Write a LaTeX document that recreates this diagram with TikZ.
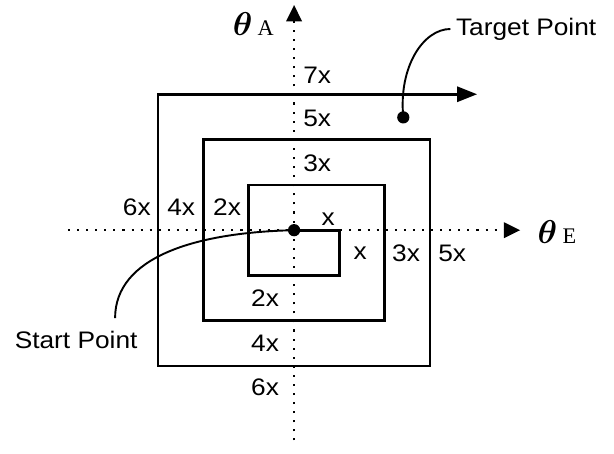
\documentclass[tikz,border=0pt]{standalone}
\usepackage{fontspec}
\setmainfont[FakeStretch=1.1]{Liberation Sans}
\newfontfamily\axisfont{Liberation Serif}
\usepackage{amsmath,bm}
\usepackage{tikz}
\usetikzlibrary{arrows.meta}

\begin{document}
\begin{tikzpicture}[
    >={Triangle[length=0.36cm,width=0.34cm]},
    font=\fontsize{15}{18}\selectfont,
    spiral/.style={line width=1.7pt, line join=miter},
    axisline/.style={line width=1.3pt, dash pattern=on 1.3pt off 4.4pt},
    pointer/.style={line width=1.2pt},
    spot/.style={circle, fill, inner sep=0pt, minimum size=0.27cm},
    lbl/.style={inner sep=1pt}
]

\useasboundingbox (-6.49,-4.92) rectangle (7.06,5.08);

% Axes
\draw[axisline,->] (0,-4.64) -- (0,4.97);
\draw[axisline,->] (-4.99,0) -- (4.99,0);
\node (thetaA) at (-0.9,4.55) {\fontsize{20}{24}\selectfont$\bm{\theta}$\,{\axisfont\fontsize{14}{16}\selectfont A}};
\node (thetaE) at (5.8,-0.04) {\fontsize{20}{24}\selectfont$\bm{\theta}$\,{\axisfont\fontsize{14}{16}\selectfont E}};

% Points
\node[spot] (sp) at (0,0) {};
\node[spot] (tp) at (2.41,2.49) {};

% Spiral search path
\draw[spiral,-{Triangle[length=0.44cm,width=0.33cm]}] (sp.center) -- (1,0) -- (1,-1) -- (-1,-1) -- (-1,1)
    -- (2,1) -- (2,-2) -- (-2,-2) -- (-2,2) -- (3,2) -- (3,-3) -- (-3,-3) -- (-3,3) -- (4.04,3);

% Callouts
\node (startlbl) at (-4.81,-2.43) {Start Point};
\node[anchor=west] (targetlbl) at (3.45,4.44) {Target Point};
\coordinate (startend) at (-3.95,-1.94);
\draw[pointer] (sp.center) .. controls (-2.2,-0.05) and (-3.95,-0.6) .. (startend);
\draw[pointer] (tp.center) .. controls (2.3,3.6) and (2.85,4.44) .. (targetlbl.west);

% Step lengths
\node[lbl] (n7x) at (0.51,3.42) {7x};
\node[lbl] (n5x) at (0.51,2.47) {5x};
\node[lbl] (n3x) at (0.51,1.48) {3x};
\node[lbl] (n1x) at (0.75,0.25) {x};
\node[lbl] (e1x) at (1.46,-0.51) {x};
\node[lbl] (e3x) at (2.47,-0.51) {3x};
\node[lbl] (e5x) at (3.49,-0.51) {5x};
\node[lbl] (w6x) at (-3.47,0.51) {6x};
\node[lbl] (w4x) at (-2.49,0.51) {4x};
\node[lbl] (w2x) at (-1.48,0.51) {2x};
\node[lbl] (s2x) at (-0.64,-1.5) {2x};
\node[lbl] (s4x) at (-0.64,-2.5) {4x};
\node[lbl] (s6x) at (-0.64,-3.47) {6x};

\end{tikzpicture}
\end{document}
